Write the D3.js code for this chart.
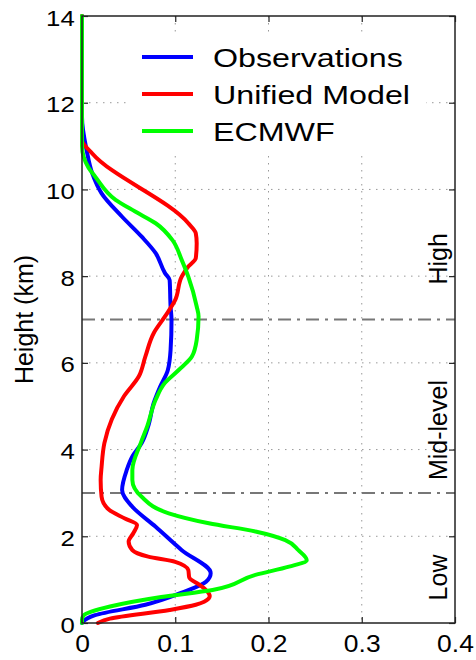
<!DOCTYPE html>
<html>
<head>
<meta charset="utf-8">
<script src="https://d3js.org/d3.v7.min.js"></script>
<style>
  body { margin: 0; background: #fff; }
  svg text { font-family: "Liberation Sans", Arial, sans-serif; fill: #000; }
</style>
</head>
<body>
<svg id="chart" width="476" height="660"></svg>
<script>
// --- data (height in km, value) ---
var obsHeight = [14, 11.67, 10.9, 10.37, 9.91, 9.37, 8.91, 8.53, 8.07, 7.91, 7.3, 6.99, 6.3, 5.83, 5.46, 5.08, 4.54, 4.15, 3.84, 3.53, 3.07, 2.68, 2.22, 1.68, 1.15, 0.95, 0.7, 0.42, 0.18, 0.03, 0];
var obsValue  = [0, 0, 0.005, 0.011, 0.021, 0.043, 0.064, 0.079, 0.089, 0.094, 0.095, 0.096, 0.095, 0.092, 0.084, 0.077, 0.071, 0.064, 0.054, 0.048, 0.043, 0.054, 0.079, 0.107, 0.138, 0.133, 0.107, 0.068, 0.014, 0.001, 0];

var umHeight = [14, 11.14, 10.83, 9.22, 8.99, 8.76, 8.41, 8.22, 7.99, 7.45, 7.07, 6.69, 6.15, 5.69, 5.23, 4.7, 4.15, 3.6, 3.3, 2.91, 2.61, 2.41, 2.26, 2.07, 1.88, 1.68, 1.53, 1.41, 1.22, 1.05, 0.88, 0.76, 0.62, 0.49, 0.42, 0.3, 0.1, 0];
var umValue  = [0, 0, 0.011, 0.114, 0.122, 0.123, 0.122, 0.114, 0.107, 0.1, 0.089, 0.077, 0.068, 0.061, 0.045, 0.032, 0.024, 0.021, 0.02, 0.021, 0.029, 0.046, 0.059, 0.055, 0.05, 0.054, 0.071, 0.1, 0.114, 0.115, 0.126, 0.133, 0.137, 0.131, 0.122, 0.094, 0.03, 0.017];

var ecHeight = [14, 11.0, 10.5, 10.3, 9.76, 9.49, 9.22, 8.83, 8.37, 7.99, 7.3, 7.07, 6.53, 6.15, 5.84, 5.54, 5.15, 4.54, 4.15, 3.53, 3.3, 2.91, 2.53, 2.3, 2.11, 1.91, 1.68, 1.45, 1.3, 1.11, 0.76, 0.6, 0.38, 0.18, 0.08, 0];
var ecValue  = [0, 0, 0.007, 0.014, 0.036, 0.057, 0.079, 0.097, 0.107, 0.114, 0.123, 0.125, 0.123, 0.118, 0.104, 0.089, 0.079, 0.07, 0.063, 0.054, 0.054, 0.064, 0.093, 0.136, 0.186, 0.218, 0.232, 0.241, 0.222, 0.186, 0.14, 0.085, 0.03, 0.002, 0, 0];

var seriesNames = ["Observations", "Unified Model", "ECMWF"];
var seriesColors = ["#0000ff", "#ff0000", "#00ff00"];

var xTicks = [0, 0.1, 0.2, 0.3, 0.4];
var xTickLabels = ["0", "0.1", "0.2", "0.3", "0.4"];
var yTicks = [0, 2, 4, 6, 8, 10, 12, 14];
var yTickLabels = ["0", "2", "4", "6", "8", "10", "12", "14"];

var levelBounds = [3, 7];
var levelNames = ["Low", "Mid-level", "High"];
var levelCenters = [1.05, 4.45, 8.4];

// --- layout ---
var svg = d3.select("#chart");
var plotLeft = 82, plotRight = 455, plotTop = 16, plotBottom = 623;
var x = d3.scaleLinear().domain([0, 0.4]).range([plotLeft, plotRight]);
var y = d3.scaleLinear().domain([0, 14]).range([plotBottom, plotTop]);
var ink = "#222";

svg.append("rect").attr("width", 476).attr("height", 660).attr("fill", "#fff");

// dotted grid
svg.append("g").selectAll("line").data(xTicks.slice(1, -1)).join("line")
  .attr("x1", d => x(d)).attr("x2", d => x(d)).attr("y1", plotTop).attr("y2", plotBottom)
  .attr("stroke", "#999").attr("stroke-width", 1).attr("stroke-dasharray", "1.5,5.5");
svg.append("g").selectAll("line").data(yTicks.slice(1, -1)).join("line")
  .attr("x1", plotLeft).attr("x2", plotRight).attr("y1", d => y(d)).attr("y2", d => y(d))
  .attr("stroke", "#999").attr("stroke-width", 1).attr("stroke-dasharray", "1.5,5.5");

// level boundaries
svg.append("g").selectAll("line").data(levelBounds).join("line")
  .attr("x1", plotLeft).attr("x2", plotRight).attr("y1", d => y(d)).attr("y2", d => y(d))
  .attr("stroke", "#777").attr("stroke-width", 2).attr("stroke-dasharray", "13,6,3,6");

// axes, ticks inward
var xAxis = svg.append("g").attr("transform", "translate(0," + plotBottom + ")")
  .call(d3.axisBottom(x).tickValues(xTicks).tickFormat((d, i) => xTickLabels[i]).tickSizeInner(-6).tickSizeOuter(0));
xAxis.selectAll("text").attr("y", 29).attr("dy", null)
  .style("font-size", "23px").attr("transform", "scale(1.15,1)");

var yAxis = svg.append("g").attr("transform", "translate(" + plotLeft + ",0)")
  .call(d3.axisLeft(y).tickValues(yTicks).tickFormat((d, i) => yTickLabels[i]).tickSizeInner(-6).tickSizeOuter(0));
yAxis.selectAll("text").attr("x", -6.5).attr("y", 9).attr("dy", null)
  .style("font-size", "23px").attr("transform", "scale(1.12,1)");

svg.append("g").attr("transform", "translate(0," + plotTop + ")")
  .call(d3.axisTop(x).tickValues(xTicks).tickFormat("").tickSizeInner(-6).tickSizeOuter(0));
svg.append("g").attr("transform", "translate(" + plotRight + ",0)")
  .call(d3.axisRight(y).tickValues(yTicks).tickFormat("").tickSizeInner(-6).tickSizeOuter(0));

svg.selectAll(".domain").remove();
svg.selectAll(".tick line").attr("stroke", ink).attr("stroke-width", 1.2);

// curves (heights strictly decrease, so a monotone-in-y spline avoids overshoot)
var heights = [obsHeight, umHeight, ecHeight];
var values = [obsValue, umValue, ecValue];
var line = d3.line().x(d => x(d[1])).y(d => y(d[0])).curve(d3.curveMonotoneY);
seriesNames.forEach(function(name, i) {
  var pts = heights[i].map((h, j) => [h, values[i][j]]);
  svg.append("path").datum(pts).attr("d", line)
    .attr("fill", "none").attr("stroke", seriesColors[i]).attr("stroke-width", 4)
    .attr("stroke-linejoin", "round").attr("stroke-linecap", "round");
});

// frame
svg.append("rect").attr("x", plotLeft).attr("y", plotTop).attr("width", plotRight - plotLeft).attr("height", plotBottom - plotTop)
  .attr("fill", "none").attr("stroke", ink).attr("stroke-width", 1.5);

// legend
var lg = svg.append("g");
lg.append("rect").attr("x", 130).attr("y", 35).attr("width", 296).attr("height", 117).attr("fill", "#fff");
seriesNames.forEach(function(name, i) {
  var ly = 57 + i * 37;
  lg.append("line").attr("x1", 142).attr("x2", 193).attr("y1", ly).attr("y2", ly)
    .attr("stroke", seriesColors[i]).attr("stroke-width", 4);
  lg.append("text").attr("transform", "translate(213," + (ly + 9.5) + ") scale(1.24,1)")
    .style("font-size", "26px").text(name);
});

// level names on the right
svg.append("g").selectAll("text").data(levelNames).join("text")
  .attr("transform", (d, i) => "translate(447," + y(levelCenters[i]) + ") rotate(-90)")
  .attr("text-anchor", "middle").style("font-size", "25px").text(d => d);

// y label
svg.append("text").attr("transform", "translate(33," + ((plotTop + plotBottom) / 2) + ") rotate(-90)")
  .attr("text-anchor", "middle").style("font-size", "25px").text("Height (km)");
</script>
</body>
</html>
